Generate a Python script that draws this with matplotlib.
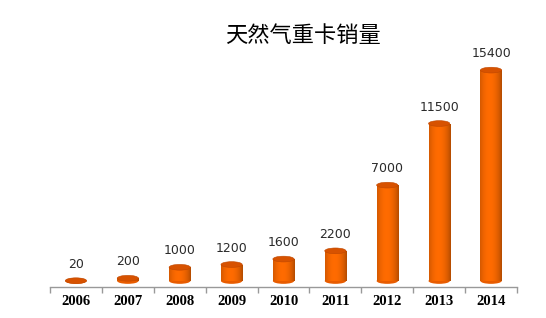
import numpy as np
import matplotlib
matplotlib.use('Agg')
import matplotlib.pyplot as plt
from matplotlib.patches import Ellipse, Rectangle

# data
years = ['2006', '2007', '2008', '2009', '2010', '2011', '2012', '2013', '2014']
sales = [20, 200, 1000, 1200, 1600, 2200, 7000, 11500, 15400]

title = '天然气重卡销量'

fig = plt.figure(figsize=(5.46, 3.18), dpi=100)
ax = fig.add_axes([50 / 546, 31 / 318, 467 / 546, 247 / 318])

ymin, ymax = -440, 17600
ax.set_xlim(-0.5, len(years) - 0.5)
ax.set_ylim(ymin, ymax)

bar_w = 0.41
ell_h = 420  # ellipse height in data units

# horizontal shading for the cylinders
grad = np.linspace(0, 1, 64)
shade = 0.55 + 0.45 * np.sin(np.pi * (0.15 + 0.8 * grad)) ** 0.6
base = np.array([1.0, 0.42, 0.0])
img = np.clip(base[None, :] * shade[:, None], 0, 1)[None, :, :]

for i, v in enumerate(sales):
    x0 = i - bar_w / 2
    # body
    rect = Rectangle((x0, 0), bar_w, v, facecolor='none', edgecolor='none')
    ax.add_patch(rect)
    if v > 0:
        im = ax.imshow(img, extent=(x0, x0 + bar_w, 0, v), aspect='auto',
                       zorder=2, interpolation='bilinear')
        im.set_clip_path(rect)
    # bottom ellipse
    ax.add_patch(Ellipse((i, 0), bar_w, ell_h, facecolor='#e85c00',
                         edgecolor='none', zorder=1.9))
    # top ellipse
    ax.add_patch(Ellipse((i, v), bar_w, ell_h, facecolor='#d75200',
                         edgecolor='#c04800', lw=0.4, zorder=3))
    ax.annotate(str(v), (i, v + ell_h / 2), xytext=(0, 5),
                textcoords='offset points', ha='center', va='bottom',
                fontsize=9, color='#2a2a2a', family='DejaVu Sans')

# axes styling
for s in ['top', 'right', 'left']:
    ax.spines[s].set_visible(False)
ax.spines['bottom'].set_color('#999999')
ax.spines['bottom'].set_linewidth(1.0)
ax.set_yticks([])
ax.set_xticks(np.arange(-0.5, len(years), 1.0))
ax.set_xticklabels([])
ax.tick_params(axis='x', length=4, color='#999999', width=1.0)
ax.set_xticks(range(len(years)), minor=True)
ax.set_xticklabels(years, minor=True, fontsize=10.5, fontweight='bold',
                   family='Liberation Serif')
ax.tick_params(axis='x', which='minor', length=0, pad=6)

fig.text(303 / 546, 1 - 35 / 318, title, ha='center', va='center',
         fontsize=16, fontweight='light',
         family=['Noto Sans CJK SC', 'DejaVu Sans'])

fig.savefig('out.png', dpi=100)
